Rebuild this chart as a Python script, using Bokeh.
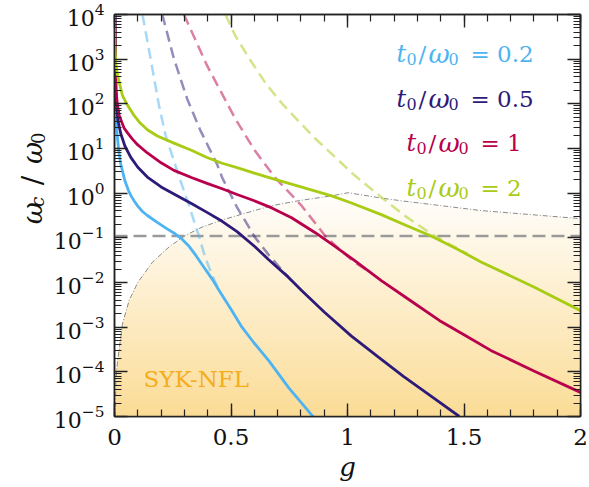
import numpy as np
from bokeh.plotting import figure
from bokeh.layouts import row
from bokeh.models import (Range1d, FixedTicker, LinearAxis, LogAxis, Label,
                          CustomJSTickFormatter)
from bokeh.core.properties import value
from bokeh.embed import file_html
from bokeh.resources import INLINE

# ---------------- data (y values as log10(w_c/w_0)) ----------------
# t0/w0 = 0.2
g_t02 = [0.003, 0.004, 0.006, 0.010, 0.018, 0.027, 0.045, 0.060, 0.070, 0.085, 0.100,
         0.120, 0.141, 0.185, 0.226, 0.260, 0.290, 0.320, 0.350, 0.380, 0.420, 0.449,
         0.500, 0.547, 0.600, 0.662, 0.748, 0.855]
lw_t02 = [4.0, 2.9, 1.75, 1.40, 0.95, 0.65, 0.27, 0.06, -0.05, -0.18, -0.29,
          -0.41, -0.50, -0.66, -0.80, -0.91, -1.03, -1.19, -1.40, -1.63, -1.93, -2.18,
          -2.60, -3.00, -3.36, -3.75, -4.36, -5.02]
# t0/w0 = 0.5
g_t05 = [0.002, 0.004, 0.008, 0.015, 0.027, 0.045, 0.070, 0.100, 0.141, 0.200, 0.255,
         0.330, 0.397, 0.462, 0.526, 0.603, 0.662, 0.746, 0.803, 0.900, 1.017, 1.130,
         1.240, 1.360, 1.480]
lw_t05 = [4.0, 2.8, 2.0, 1.62, 1.33, 1.05, 0.80, 0.58, 0.36, 0.14, -0.02,
          -0.23, -0.43, -0.63, -0.86, -1.20, -1.49, -1.88, -2.18, -2.66, -3.20, -3.66,
          -4.10, -4.55, -5.0]
# t0/w0 = 1
g_t1 = [0.002, 0.004, 0.006, 0.012, 0.020, 0.041, 0.056, 0.077, 0.100, 0.141, 0.200,
        0.255, 0.330, 0.397, 0.462, 0.526, 0.600, 0.675, 0.760, 0.860, 0.940, 1.031,
        1.145, 1.260, 1.394, 1.500, 1.615, 1.800, 2.0]
lw_t1 = [4.0, 3.0, 2.34, 2.0, 1.74, 1.46, 1.35, 1.21, 1.08, 0.90, 0.68,
         0.51, 0.35, 0.22, 0.10, -0.03, -0.17, -0.33, -0.55, -0.88, -1.17, -1.51,
         -1.96, -2.37, -2.85, -3.17, -3.52, -3.98, -4.46]
# t0/w0 = 2
g_t2 = [0.0005, 0.0015, 0.004, 0.007, 0.013, 0.034, 0.050, 0.084, 0.110, 0.141, 0.184,
        0.255, 0.330, 0.397, 0.462, 0.526, 0.600, 0.689, 0.800, 0.932, 1.017, 1.145,
        1.250, 1.359, 1.470, 1.573, 1.800, 2.0]
lw_t2 = [4.0, 3.38, 3.05, 2.85, 2.64, 2.19, 2.02, 1.74, 1.57, 1.42, 1.28,
         1.12, 0.96, 0.80, 0.67, 0.57, 0.45, 0.31, 0.14, -0.06, -0.22, -0.48,
         -0.72, -0.96, -1.25, -1.54, -2.10, -2.63]

# dashed asymptotes
g_t02_asym = [0.120, 0.155, 0.191, 0.219, 0.250, 0.283, 0.315, 0.341, 0.362, 0.390, 0.420, 0.452]
lw_t02_asym = [4.0, 3.01, 1.96, 1.30, 0.80, 0.28, -0.20, -0.62, -0.95, -1.45, -1.85, -2.20]
g_t05_asym = [0.205, 0.255, 0.312, 0.369, 0.440, 0.462, 0.526, 0.561, 0.603, 0.660, 0.710, 0.760]
lw_t05_asym = [4.0, 3.01, 2.11, 1.40, 0.65, 0.35, -0.32, -0.62, -0.99, -1.37, -1.67, -1.96]
g_t1_asym = [0.298, 0.397, 0.518, 0.600, 0.689, 0.803, 0.903, 0.970, 1.031, 1.100]
lw_t1_asym = [4.0, 2.86, 1.67, 0.97, 0.35, -0.28, -0.95, -1.28, -1.55, -1.78]
g_t2_asym = [0.476, 0.518, 0.580, 0.650, 0.720, 0.789, 0.860, 0.932, 1.030, 1.145,
             1.250, 1.359, 1.440, 1.516]
lw_t2_asym = [4.0, 3.53, 3.00, 2.45, 2.00, 1.62, 1.23, 0.88, 0.40, -0.09,
              -0.52, -0.91, -1.15, -1.36]

# SYK-NFL region boundary
g_nfl = [0.003, 0.006, 0.012, 0.020, 0.034, 0.063, 0.100, 0.162, 0.235, 0.303, 0.376,
         0.462, 0.560, 0.675, 0.800, 0.932, 1.003, 1.145, 1.230, 1.573, 2.0]
lw_nfl = [-5.0, -4.2, -3.82, -3.5, -2.93, -2.40, -2.00, -1.55, -1.20, -0.95, -0.76,
          -0.60, -0.45, -0.28, -0.16, -0.06, 0.01, -0.11, -0.17, -0.39, -0.57]

threshold = 0.11
legend_values = ["0.2", "0.5", "1", "2"]
region_label = "SYK-NFL"
x_ticks = [0, 0.5, 1, 1.5, 2]
x_tick_labels = ["0", "0.5", "1", "1.5", "2"]
y_exponents = list(range(-5, 5))

# ---------------- styling ----------------
colors = ["#4DB3F2", "#2E1A78", "#B8004C", "#A8CB14"]
FONT = "DejaVu Serif"
W, H = 589, 487
LW = 50                              # width of the strip holding the y-axis title
FL, FR, FT, FB = 112, 580, 14, 416   # frame edges in px (whole page)
XMIN, XMAX = 0.0, 2.0
YMIN, YMAX = 1e-5, 1e4

p = figure(width=W - LW, height=H, x_range=Range1d(XMIN, XMAX), y_range=Range1d(YMIN, YMAX),
           y_axis_type="log", output_backend="svg", toolbar_location=None,
           min_border_left=FL - LW, min_border_right=W - FR, min_border_top=FT,
           min_border_bottom=H - FB)
p.xgrid.visible = False
p.ygrid.visible = False
p.background_fill_color = "white"
p.border_fill_color = "white"
p.outline_line_color = "#222222"
p.outline_line_width = 1.5

# ---------------- gradient shading of the SYK-NFL region ----------------
bx = np.array(g_nfl)
by = 10 ** np.array(lw_nfl)
c_bot = np.array([251, 220, 150])
c_top = np.array([255, 255, 255])
nb = 60
lo, hi = -5.0, 0.1
for k in reversed(range(nb)):
    top = 10 ** (lo + (k + 1) * (hi - lo) / nb)
    t = (k + 0.5) / nb
    c = c_bot + t * (c_top - c_bot)
    col = "#%02x%02x%02x" % tuple(int(round(v)) for v in c)
    p.varea(x=bx, y1=YMIN, y2=np.minimum(by, top), fill_color=col)

p.line(bx, by, line_color="#8a8a8a", line_width=1, line_dash="5 2 1 2")
p.line([XMIN, XMAX], [threshold, threshold], line_color="#9a9a9a", line_width=2.5,
       line_dash="13 6")

asym = [(g_t02_asym, lw_t02_asym), (g_t05_asym, lw_t05_asym),
        (g_t1_asym, lw_t1_asym), (g_t2_asym, lw_t2_asym)]
solid = [(g_t02, lw_t02), (g_t05, lw_t05), (g_t1, lw_t1), (g_t2, lw_t2)]
for (gx, lw), col in zip(asym, colors):
    p.line(gx, 10 ** np.array(lw), line_color=col, line_alpha=0.5, line_width=2.5,
           line_dash="11 6", line_join="round")
for (gx, lw), col in zip(solid, colors):
    p.line(gx, 10 ** np.array(lw), line_color=col, line_width=2.8, line_join="round")

# ---------------- axes ----------------
x_minor = [round(v, 2) for v in np.arange(0, 2.001, 0.1)]
y_major = [10.0 ** e for e in y_exponents]
y_minor = [m * 10.0 ** e for e in range(-5, 4) for m in range(2, 10)]


def style_axis(ax, size="22px"):
    ax.major_tick_in = 13
    ax.major_tick_out = 0
    ax.minor_tick_in = 7
    ax.minor_tick_out = 0
    ax.major_tick_line_color = "#222222"
    ax.minor_tick_line_color = "#222222"
    ax.major_tick_line_width = 1.4
    ax.minor_tick_line_width = 1.2
    ax.axis_line_color = "#222222"
    ax.axis_line_width = 1.5
    ax.major_label_text_font = FONT
    ax.major_label_text_font_size = size
    ax.major_label_text_color = "#111111"


xa = p.xaxis[0]
xa.ticker = FixedTicker(ticks=x_ticks, minor_ticks=x_minor)
xa.major_label_overrides = {t: l for t, l in zip(x_ticks, x_tick_labels)}
style_axis(xa, "23px")
xa.major_label_standoff = 12
xa.axis_label = "g"
xa.axis_label_text_font = FONT
xa.axis_label_text_font_style = "italic"
xa.axis_label_text_font_size = "26px"
xa.axis_label_standoff = 4
xa.axis_label_text_color = "#111111"

ya = p.yaxis[0]
ya.ticker = FixedTicker(ticks=y_major, minor_ticks=y_minor)
style_axis(ya, "22px")
ya.major_label_standoff = 10

empty = CustomJSTickFormatter(code="return ''")
top_ax = LinearAxis(ticker=FixedTicker(ticks=x_ticks, minor_ticks=x_minor), formatter=empty)
style_axis(top_ax)
top_ax.major_label_standoff = 0
top_ax.major_label_text_font_size = "1px"
p.add_layout(top_ax, "above")
right_ax = LogAxis(ticker=FixedTicker(ticks=y_major, minor_ticks=y_minor), formatter=empty)
style_axis(right_ax)
right_ax.major_label_standoff = 0
right_ax.major_label_text_font_size = "1px"
p.add_layout(right_ax, "right")


def put(txt, px, py, size, style="normal", color="#111111"):
    # px, py: page pixel position of the text's baseline start (inside the frame)
    p.add_layout(Label(x=px - LW, y=py, x_units="canvas", y_units="canvas", text=txt,
                       text_font=FONT, text_font_style=style,
                       text_font_size=size, text_align="left",
                       text_baseline="alphabetic", text_color=color))


# ---------------- legend-like annotations ----------------
row_baselines = [53, 98, 142, 187]
row_shift = [0, 0, 10, 10]
for val, col, base, sh in zip(legend_values, colors, row_baselines, row_shift):
    for txt, style, size, px, sub in [("t", "italic", "24px", 396, 0), ("0", "normal", "16px", 406, 5),
                                      ("/", "normal", "23px", 418, 0), ("ω", "italic", "26px", 428, 0),
                                      ("0", "normal", "16px", 448, 5), ("= " + val, "normal", "23px", 470, 0)]:
        put(txt, px + sh, base + sub, size, style, color=col)

put(region_label, 143, 378, "23px", color="#F5AE1A")

# ---------------- y-axis title  w_c / w_0 in its own strip ----------------
side = figure(width=LW, height=H, x_range=Range1d(0, LW), y_range=Range1d(H, 0),
              output_backend="svg", toolbar_location=None,
              x_axis_location=None, y_axis_location=None,
              min_border_left=0, min_border_right=0, min_border_top=0, min_border_bottom=0)
side.xgrid.visible = False
side.ygrid.visible = False
side.outline_line_color = None
side.background_fill_color = "white"
side.border_fill_color = "white"
for txt, style, size, py, px in [("ω", "italic", "27px", 254, 32), ("c", "italic", "18px", 233, 37),
                                 ("/", "normal", "28px", 207, 32), ("ω", "italic", "27px", 181, 32),
                                 ("0", "normal", "18px", 157, 37)]:
    side.text(x=[px], y=[py], text=[txt], angle=np.pi / 2, text_font=value(FONT),
              text_font_style=style, text_font_size=size, text_align="left",
              text_baseline="alphabetic", text_color="#111111")

layout = row(side, p)
open("out.html", "w").write(file_html(layout, INLINE))
